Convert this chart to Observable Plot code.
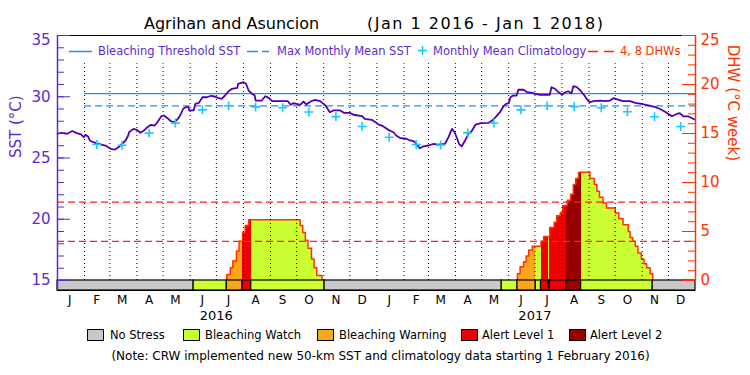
<!DOCTYPE html>
<html><head><meta charset="utf-8">
<script src="https://cdn.jsdelivr.net/npm/d3@7"></script>
<script src="https://cdn.jsdelivr.net/npm/@observablehq/plot@0.6"></script>
<style>
body{margin:0;background:#fff;}
#wrap{position:relative;width:750px;height:375px;font-family:"DejaVu Sans",sans-serif;overflow:hidden;background:#fff;}
.t{position:absolute;white-space:pre;}
.box{position:absolute;width:15px;height:10px;border:1px solid #000;top:329px;}
</style></head><body>
<div id="wrap">
  <div id="chart" style="position:absolute;left:0;top:30px;"></div>
  <div class="t" style="left:144px;top:15.8px;font-size:16px;line-height:16px;color:#000">Agrihan and Asuncion</div>
  <div class="t" style="left:367px;top:15.8px;font-size:16px;line-height:16px;color:#000;letter-spacing:1.5px">(Jan 1 2016 - Jan 1 2018)</div>

  <svg style="position:absolute;left:0;top:0" width="750" height="70">
    <line x1="69" x2="92" y1="51.5" y2="51.5" stroke="#1e90ff" stroke-width="1.5"/>
    <line x1="247" x2="269" y1="51.5" y2="51.5" stroke="#1e90ff" stroke-width="1.5" stroke-dasharray="11,4"/>
    <line x1="418" x2="427" y1="50.5" y2="50.5" stroke="#1ec8ff" stroke-width="1.6"/>
    <line x1="422.5" x2="422.5" y1="46" y2="55" stroke="#1ec8ff" stroke-width="1.6"/>
    <line x1="588" x2="614" y1="51.5" y2="51.5" stroke="#ff2020" stroke-width="1.5" stroke-dasharray="10,6"/>
  </svg>
  <div class="t" style="left:98px;top:46px;font-size:11.5px;line-height:11.5px;color:#5b2bd1">Bleaching Threshold SST</div>
  <div class="t" style="left:277px;top:46px;font-size:11.5px;line-height:11.5px;color:#5b2bd1">Max Monthly Mean SST</div>
  <div class="t" style="left:433px;top:46px;font-size:11.5px;line-height:11.5px;color:#5b2bd1">Monthly Mean Climatology</div>
  <div class="t" style="left:620px;top:46px;font-size:11.5px;line-height:11.5px;color:#ff3300">4, 8 DHWs</div>

  <div class="box" style="left:87px;background:#c8c8c8"></div>
  <div class="t" style="left:110px;top:330.3px;font-size:11.5px;line-height:11.5px">No Stress</div>
  <div class="box" style="left:183px;background:#ccff33"></div>
  <div class="t" style="left:205px;top:330.3px;font-size:11.5px;line-height:11.5px">Bleaching Watch</div>
  <div class="box" style="left:317px;background:#faa51a"></div>
  <div class="t" style="left:339px;top:330.3px;font-size:11.5px;line-height:11.5px">Bleaching Warning</div>
  <div class="box" style="left:461px;background:#ee0000"></div>
  <div class="t" style="left:482px;top:330.3px;font-size:11.5px;line-height:11.5px">Alert Level 1</div>
  <div class="box" style="left:569px;background:#990000"></div>
  <div class="t" style="left:590px;top:330.3px;font-size:11.5px;line-height:11.5px">Alert Level 2</div>
  <div class="t" style="left:0;width:761px;text-align:center;top:349.9px;font-size:12px;line-height:12px">(Note: CRW implemented new 50-km SST and climatology data starting 1 February 2016)</div>
</div>
<script>
// ---------------- DATA ----------------
const sstDates = ["2016-01-01","2016-01-06","2016-01-12","2016-01-18","2016-01-23","2016-01-28","2016-01-31","2016-02-02","2016-02-05","2016-02-07","2016-02-11","2016-02-17","2016-02-25","2016-02-28","2016-03-03","2016-03-07","2016-03-11","2016-03-15","2016-03-19","2016-03-22","2016-03-23","2016-03-28","2016-04-01","2016-04-05","2016-04-09","2016-04-13","2016-04-17","2016-04-21","2016-04-24","2016-04-29","2016-05-02","2016-05-06","2016-05-10","2016-05-14","2016-05-18","2016-05-21","2016-05-24","2016-05-27","2016-05-30","2016-05-31","2016-06-05","2016-06-07","2016-06-11","2016-06-15","2016-06-20","2016-06-25","2016-06-29","2016-07-03","2016-07-07","2016-07-11","2016-07-15","2016-07-19","2016-07-25","2016-07-26","2016-08-01","2016-08-04","2016-08-07","2016-08-11","2016-08-14","2016-08-15","2016-08-22","2016-08-26","2016-08-30","2016-09-03","2016-09-10","2016-09-21","2016-09-24","2016-09-27","2016-10-01","2016-10-05","2016-10-09","2016-10-12","2016-10-17","2016-10-22","2016-10-28","2016-11-03","2016-11-08","2016-11-12","2016-11-20","2016-11-24","2016-12-01","2016-12-05","2016-12-15","2016-12-18","2016-12-26","2016-12-30","2017-01-03","2017-01-08","2017-01-14","2017-01-20","2017-01-23","2017-01-28","2017-02-04","2017-02-08","2017-02-12","2017-02-16","2017-02-19","2017-02-23","2017-03-01","2017-03-07","2017-03-12","2017-03-20","2017-03-24","2017-03-28","2017-03-31","2017-04-03","2017-04-05","2017-04-08","2017-04-12","2017-04-16","2017-04-20","2017-04-24","2017-04-30","2017-05-09","2017-05-13","2017-05-17","2017-05-22","2017-05-26","2017-05-29","2017-06-01","2017-06-03","2017-06-06","2017-06-10","2017-06-12","2017-06-18","2017-06-22","2017-06-28","2017-07-01","2017-07-07","2017-07-18","2017-07-20","2017-07-24","2017-07-28","2017-08-01","2017-08-05","2017-08-08","2017-08-12","2017-08-14","2017-08-18","2017-08-22","2017-08-26","2017-08-30","2017-09-02","2017-09-06","2017-09-14","2017-09-19","2017-09-25","2017-09-29","2017-10-05","2017-10-10","2017-10-18","2017-10-24","2017-10-31","2017-11-08","2017-11-16","2017-11-21","2017-11-28","2017-12-05","2017-12-11","2017-12-14","2017-12-18","2017-12-24","2017-12-31"];
const sstValues = [26.98,27.06,26.98,27.2,27.03,26.92,26.7,26.89,26.76,26.43,26.29,26.16,26.02,25.88,25.72,25.69,25.88,26.16,26.43,26.84,27.1,27.38,27.3,27.06,27.24,27.52,27.71,27.65,27.87,28.41,28.47,28.25,28.0,27.93,28.2,28.53,29.02,29.15,29.15,28.88,28.88,29.42,29.5,29.96,29.96,30.08,30.02,29.91,29.83,30.1,30.45,30.65,30.73,31.06,31.19,31.06,30.51,30.24,30.1,29.69,29.69,30.04,29.91,29.64,29.64,29.64,29.34,29.47,29.42,29.34,29.61,29.37,29.61,29.75,29.64,29.29,28.74,28.88,28.88,28.69,28.69,28.53,28.41,28.2,28.12,27.93,27.73,27.6,27.3,27.1,26.84,26.62,26.57,26.43,26.37,26.1,25.8,25.94,26.02,26.16,26.1,26.16,26.7,27.38,27.1,26.57,26.16,25.94,26.43,26.98,27.24,27.73,27.84,27.87,28.06,28.33,28.74,29.23,29.42,29.47,29.96,30.1,30.1,30.57,30.57,30.37,30.32,30.24,30.16,30.16,30.78,30.65,30.37,30.18,30.37,30.45,30.29,30.86,30.78,30.51,30.18,29.75,29.55,29.64,29.69,29.64,29.69,29.88,29.75,29.64,29.64,29.5,29.42,29.29,29.15,29.02,28.74,28.41,28.61,28.66,28.41,28.39,28.14];

const climDates = ["2016-02-15","2016-03-15","2016-04-15","2016-05-15","2016-06-15","2016-07-15","2016-08-15","2016-09-15","2016-10-15","2016-11-15","2016-12-15","2017-01-15","2017-02-15","2017-03-15","2017-04-15","2017-05-15","2017-06-15","2017-07-15","2017-08-15","2017-09-15","2017-10-15","2017-11-15","2017-12-15"];
const climValues = [26.1,26.04,27.03,27.85,28.93,29.26,29.17,29.1,28.76,28.38,27.57,26.7,26.1,26.06,27.05,27.86,28.93,29.26,29.19,29.1,28.78,28.37,27.57];

const mmmValue = 29.26;
const thresholdValue = 30.26;
const climStart = "2016-02-01";

const dhwDates = ["2016-07-13","2016-07-17","2016-07-20","2016-07-24","2016-07-27","2016-07-31","2016-08-03","2016-08-07","2016-10-05","2016-10-08","2016-10-11","2016-10-14","2016-10-18","2016-10-21","2016-10-24","2016-10-30",
  "2017-06-11","2017-06-14","2017-06-18","2017-06-21","2017-06-24","2017-06-28","2017-07-08","2017-07-11","2017-07-18","2017-07-23","2017-07-26","2017-07-30","2017-08-02","2017-08-07","2017-08-11","2017-08-14","2017-08-17","2017-08-20","2017-09-02","2017-09-07","2017-09-10","2017-09-13","2017-09-17","2017-09-21","2017-10-01","2017-10-05","2017-10-10","2017-10-16","2017-10-18","2017-10-21","2017-10-24","2017-10-27","2017-10-31","2017-11-03","2017-11-06","2017-11-10","2017-11-13"];
const dhwValues = [0.6,1.3,2.0,3.0,4.0,4.9,5.6,6.2,5.6,4.9,4.1,3.3,2.2,1.3,0.5,0,
  0.7,1.4,1.9,2.5,3.1,3.5,4.0,4.5,5.4,5.95,6.6,6.9,7.65,8.2,8.8,9.8,10.4,11.05,10.4,9.8,9.1,8.5,7.9,7.4,6.9,6.3,5.7,5.0,4.4,4.0,3.5,2.8,2.2,1.7,1.3,0.7,0];

const statusStarts = ["2016-01-01","2016-06-05","2016-07-13","2016-07-31","2016-08-10","2016-11-02","2017-05-24","2017-06-11","2017-07-02","2017-07-08","2017-07-17","2017-07-18","2017-08-06","2017-08-23","2017-11-13"];
const statusLevels = ["none","watch","warning","alert1","watch","none","watch","warning","watch","alert1","watch","alert1","alert2","watch","none"];

const dhwRefLevels = [4, 8];
const sstTickLabels = [15, 20, 25, 30, 35];
const dhwTickLabels = [0, 5, 10, 15, 20, 25];
const monthLetters = ["J","F","M","A","M","J","J","A","S","O","N","D"];
const yearLabels = ["2016", "2017"];
const xStart = "2016-01-01", xEnd = "2018-01-01";

// ---------------- STYLE ----------------
const statusColor = {none:"#c8c8c8", watch:"#ccff33", warning:"#faa51a", alert1:"#ee0000", alert2:"#990000"};
const purple = "#5b2bd1", lineColor = "#5000b4", orange = "#ff3300";

// ---------------- BUILD ----------------
const D = s => new Date(s + "T00:00:00Z");
const toY = dhw => 15 + dhw * 0.8;          // DHW 0..25 -> SST 15..35
const yBottom = 15 - 10 / 12.25;             // status bar strip below SST 15

const sst = sstDates.map((d, i) => ({t: D(d), v: sstValues[i]}));
const clim = climDates.map((d, i) => ({t: D(d), v: climValues[i]}));
const statusSeg = statusStarts.map((s, i) => ({x1: D(s), x2: D(statusStarts[i + 1] ?? xEnd), level: statusLevels[i]}));
const statusAt = t => (statusSeg.find(s => t >= s.x1 && t < s.x2) || statusSeg[0]).level;
const dhw = dhwDates.map((d, i) => ({t: D(d), v: dhwValues[i]}));

const dhwRects = [];
for (let i = 0; i < dhw.length - 1; i++) {
  if (dhw[i].v <= 0) continue;
  const a = dhw[i].t, b = dhw[i + 1].t;
  const cuts = [a, ...statusSeg.map(s => s.x1).filter(t => t > a && t < b), b];
  for (let j = 0; j < cuts.length - 1; j++)
    dhwRects.push({x1: cuts[j], x2: cuts[j + 1], v: dhw[i].v, level: statusAt(cuts[j])});
}
const outline = [];
{ let ep = 0, start = true;
  dhw.forEach(d => {
    if (start) { outline.push({t: d.t, v: 0, ep}); start = false; }
    outline.push({t: d.t, v: d.v, ep});
    if (d.v === 0) { ep++; start = true; }
  });
}
const monthStarts = d3.utcMonth.range(D(xStart), D(xEnd)).slice(1);
const midMonths = d3.utcMonth.range(D(xStart), D(xEnd)).map(m => d3.utcDay.offset(m, 14));
const yearCenters = yearLabels.map(y => D(y + "-07-01"));
const sstMinor = d3.range(15, 36);
const dhwMinor = d3.range(0, 26).map(toY);
const frameW = 750 - 57 - 55;

const chart = Plot.plot({
  width: 750, height: 295,
  marginTop: 5, marginBottom: 35, marginLeft: 57, marginRight: 55,
  x: {type: "utc", domain: [D(xStart), D(xEnd)], axis: null},
  y: {domain: [yBottom, 35], axis: null},
  color: {type: "identity"},
  style: {fontFamily: "DejaVu Sans", background: "transparent", overflow: "visible"},
  marks: [
    Plot.rect(dhwRects, {x1: "x1", x2: "x2", y1: () => 15, y2: d => toY(d.v), fill: d => statusColor[d.level], shapeRendering: "crispEdges"}),
    Plot.line(outline, {x: "t", y: d => toY(d.v), z: "ep", curve: "step-after", stroke: orange, strokeWidth: 1.5}),
    Plot.ruleX(monthStarts, {x: d => d, y1: () => 15, y2: () => 32.7, stroke: "#000", strokeDasharray: "1,3", strokeWidth: 1}),
    Plot.ruleY(dhwRefLevels, {y: d => toY(d), stroke: "#ff2020", strokeDasharray: "7,4", strokeWidth: 1.3}),
    Plot.ruleY([mmmValue], {y: d => d, x1: () => D(climStart), x2: () => D(xEnd), stroke: "#1e90ff", strokeDasharray: "7,4", strokeWidth: 1.3}),
    Plot.ruleY([thresholdValue], {y: d => d, x1: () => D(climStart), x2: () => D(xEnd), stroke: "#1e90ff", strokeWidth: 1.3}),
    Plot.line(sst, {x: "t", y: "v", stroke: lineColor, strokeWidth: 1.8}),
    Plot.dot(clim, {x: "t", y: "v", symbol: "plus", r: 3, stroke: "#1ec8ff", strokeWidth: 1.6}),
    Plot.rect(statusSeg, {x1: "x1", x2: "x2", y1: () => yBottom, y2: () => 15, fill: d => statusColor[d.level], stroke: "#000", strokeWidth: 1.2}),
    // frame
    Plot.ruleY([35], {y: d => d, stroke: "#000"}),
    Plot.ruleY([yBottom], {y: d => d, stroke: "#000"}),
    Plot.ruleX([D(xStart)], {x: d => d, stroke: purple, strokeWidth: 1.5}),
    Plot.ruleX([D(xEnd)], {x: d => d, y1: () => 15, y2: () => 35, stroke: orange, strokeWidth: 1.5}),
    // inward ticks
    Plot.tickY(sstMinor, {y: d => d, stroke: purple, insetRight: frameW - 7}),
    Plot.tickY(sstTickLabels, {y: d => d, stroke: purple, insetRight: frameW - 13}),
    Plot.tickY(dhwMinor, {y: d => d, stroke: orange, insetLeft: frameW - 7}),
    Plot.tickY(dhwTickLabels.map(toY), {y: d => d, stroke: orange, insetLeft: frameW - 13}),
    // axis labels
    Plot.axisY({anchor: "left", ticks: sstTickLabels.slice(0, -1), tickSize: 0, tickPadding: 7, fontSize: 15, color: purple, label: null}),
    Plot.axisY({anchor: "left", ticks: sstTickLabels.slice(-1), tickSize: 0, tickPadding: 7, fontSize: 15, color: purple, label: null, dy: 5}),
    Plot.axisY({anchor: "right", ticks: dhwTickLabels.slice(0, -1).map(toY), tickFormat: v => String(Math.round((v - 15) / 0.8)), tickSize: 0, tickPadding: 5, fontSize: 15, color: orange, label: null}),
    Plot.axisY({anchor: "right", ticks: dhwTickLabels.slice(-1).map(toY), tickFormat: v => String(Math.round((v - 15) / 0.8)), tickSize: 0, tickPadding: 5, fontSize: 15, color: orange, label: null, dy: 5}),
    Plot.axisX({ticks: midMonths, tickFormat: d => monthLetters[d.getUTCMonth()], tickSize: 0, tickPadding: 5, fontSize: 12, color: "#000", label: null}),
    Plot.axisX({ticks: yearCenters, tickFormat: d => String(d.getUTCFullYear()), tickSize: 0, tickPadding: 20, fontSize: 13, color: "#000", label: null}),
    Plot.text(["SST (°C)"], {text: d => d, frameAnchor: "left", dx: -41.5, dy: -5, rotate: -90, fontSize: 15, fill: purple}),
    Plot.text(["DHW (°C week)"], {text: d => d, frameAnchor: "right", dx: 37, dy: -2, rotate: 90, fontSize: 15, fill: orange})
  ]
});
document.getElementById("chart").appendChild(chart);
</script>
</body></html>
